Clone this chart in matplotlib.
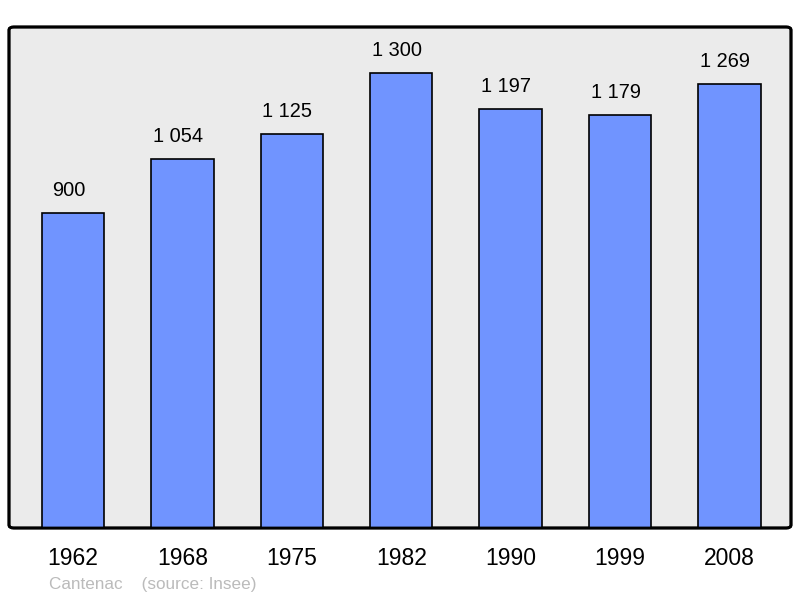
import matplotlib
matplotlib.use("Agg")
import matplotlib.pyplot as plt
from matplotlib.patches import FancyBboxPatch

years = ["1962", "1968", "1975", "1982", "1990", "1999", "2008"]
population = [900, 1054, 1125, 1300, 1197, 1179, 1269]
value_labels = ["900", "1 054", "1 125", "1 300", "1 197", "1 179", "1 269"]

plt.rcParams['font.family'] = ['Liberation Sans', 'DejaVu Sans']

fig = plt.figure(figsize=(8, 5.98), dpi=100)
ax = fig.add_axes([9/800, 70/598, 782/800, 501/598])
ax.set_facecolor('none')
x = list(range(len(years)))
ax.bar(x, population, width=0.57, color='#7094ff', edgecolor='black', linewidth=1.2, zorder=2)
ax.set_xlim(-0.585, 6.562)
ax.set_ylim(0, 1431)
for xi, v, lab in zip(x, population, value_labels):
    ax.annotate(lab, (xi, v), xytext=(-3.3, 9.5), textcoords='offset points',
                ha='center', va='bottom', fontsize=14.4)
ax.set_xticks(x)
ax.set_xticklabels(years, fontsize=16.5)
ax.tick_params(axis='x', length=0, pad=14)
ax.set_yticks([])
for s in ax.spines.values():
    s.set_visible(False)
bg = FancyBboxPatch((0, 0), 1, 1, boxstyle="round,pad=0,rounding_size=0.006",
                    transform=ax.transAxes, facecolor='#ebebeb', edgecolor='black',
                    linewidth=2, zorder=0, clip_on=False)
ax.add_patch(bg)
border = FancyBboxPatch((0, 0), 1, 1, boxstyle="round,pad=0,rounding_size=0.006",
                        transform=ax.transAxes, facecolor='none', edgecolor='black',
                        linewidth=2, zorder=3, clip_on=False)
ax.add_patch(border)
fig.text(49/800, 1 - 584.5/598, "Cantenac    (source: Insee)", color='#bbbbbb',
         fontsize=12.3, ha='left', va='center')
fig.savefig("out.png", dpi=100)
